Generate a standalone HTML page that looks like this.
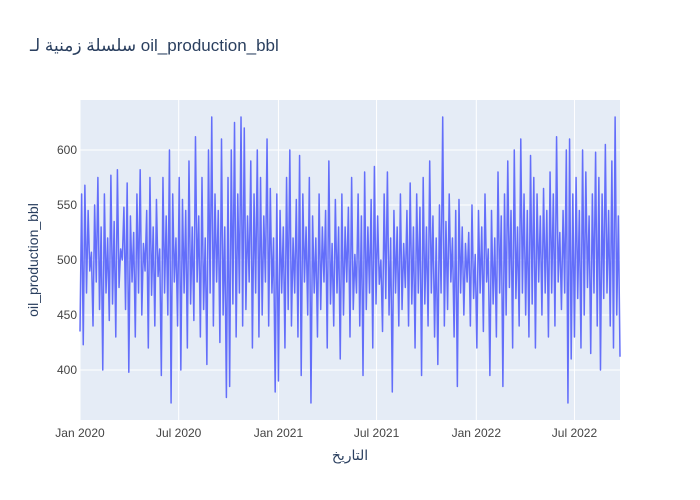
<!DOCTYPE html>
<html><head><meta charset="utf-8"><style>
body{margin:0;background:#fff;}
svg{display:block;font-family:"Liberation Sans","Noto Sans CJK SC","DejaVu Sans",sans-serif;}
</style></head><body>
<svg id="chart" width="700" height="500">
<rect x="0" y="0" width="700" height="500" fill="#fff"/>
<rect x="80" y="100" width="540" height="320" fill="#e5ecf6"/>
<g id="grid"></g>
<g id="series"></g>
<g id="ticks"></g>
<text x="30" y="51" font-size="17" fill="#2a3f5f" direction="ltr">سلسلة زمنية لـ oil_production_bbl</text>
<text x="350" y="460" font-size="14" fill="#2a3f5f" text-anchor="middle">التاريخ</text>
<text transform="translate(38,260) rotate(-90)" font-size="14" fill="#2a3f5f" text-anchor="middle">oil_production_bbl</text>
</svg>
<script>
const startDate = "2020-01-01";
const stepDays = 3;
const values = [
435,560,423,568,470,545,490,507,440,550,480,575,455,530,400,560,470,520,445,577,
460,535,430,582,475,510,500,548,455,570,398,540,480,525,430,560,470,582,450,515,
490,545,420,575,468,530,440,555,485,510,395,575,470,540,450,600,370,560,480,520,
440,575,400,555,470,545,420,590,460,530,445,612,480,540,430,575,455,520,405,600,
470,630,440,560,480,545,425,610,450,530,375,575,385,600,460,625,430,560,470,630,
440,620,455,540,480,590,420,560,470,600,430,575,450,540,480,610,440,565,470,520,
380,560,390,545,470,530,420,575,455,600,440,520,470,555,430,595,395,560,480,530,
450,575,370,540,470,520,430,560,455,530,480,545,420,590,460,515,440,555,470,530,
410,560,450,530,480,548,430,575,455,505,470,560,440,540,395,580,455,530,470,555,
420,585,460,540,478,500,435,560,465,580,450,520,380,545,470,530,440,560,455,515,
475,545,440,570,460,530,420,560,470,548,395,575,460,530,440,590,470,540,430,520,
405,550,470,630,440,535,455,560,480,520,430,545,385,555,470,530,450,515,480,525,
440,550,465,505,420,545,470,530,435,560,480,510,395,545,460,520,430,580,470,540,
385,560,450,590,475,545,420,600,465,530,440,610,470,560,450,545,430,595,460,575,
420,560,480,540,450,565,470,545,430,580,470,560,440,612,480,525,455,545,470,600,
370,610,410,560,430,575,465,545,420,600,450,580,475,540,415,560,470,598,440,575,
400,560,465,605,470,545,440,590,420,630,450,540,412
];
const yTicks = [400,450,500,550,600];
const xTickDates = ["2020-01-01","2020-07-01","2021-01-01","2021-07-01","2022-01-01","2022-07-01"];
const xTickLabels = ["Jan 2020","Jul 2020","Jan 2021","Jul 2021","Jan 2022","Jul 2022"];

const NS="http://www.w3.org/2000/svg";
const t0=Date.parse(startDate);
const DAY=86400000;
const dates=values.map((v,i)=>t0+i*stepDays*DAY);
const xMin=t0, xMax=dates[dates.length-1];
function x(t){return 80+(t-xMin)/(xMax-xMin)*540;}
function y(v){return 370-(v-400)*1.1;}
const grid=document.getElementById('grid'), ticks=document.getElementById('ticks'), series=document.getElementById('series');
yTicks.forEach(v=>{
  const l=document.createElementNS(NS,'line');
  l.setAttribute('x1',80);l.setAttribute('x2',620);l.setAttribute('y1',y(v));l.setAttribute('y2',y(v));
  l.setAttribute('stroke','#fff');l.setAttribute('stroke-width','1');
  
  
  grid.appendChild(l);
  const tx=document.createElementNS(NS,'text');
  tx.setAttribute('x',77);tx.setAttribute('y',y(v)+4);tx.setAttribute('text-anchor','end');
  tx.setAttribute('font-size','12');tx.setAttribute('fill','#444');tx.textContent=v;
  
  
  ticks.appendChild(tx);
});
xTickDates.forEach((d,i)=>{
  const xx=x(Date.parse(d));
  const l=document.createElementNS(NS,'line');
  l.setAttribute('x1',xx);l.setAttribute('x2',xx);l.setAttribute('y1',100);l.setAttribute('y2',420);
  l.setAttribute('stroke','#fff');l.setAttribute('stroke-width','1');
  
  
  grid.appendChild(l);
  const tx=document.createElementNS(NS,'text');
  tx.setAttribute('x',xx);tx.setAttribute('y',437);tx.setAttribute('text-anchor','middle');
  tx.setAttribute('font-size','12');tx.setAttribute('fill','#444');tx.textContent=xTickLabels[i];
  
  
  ticks.appendChild(tx);
});
const p=document.createElementNS(NS,'path');
p.setAttribute('d',values.map((v,i)=>(i?'L':'M')+x(dates[i]).toFixed(2)+','+y(v).toFixed(2)).join(''));
p.setAttribute('fill','none');p.setAttribute('stroke','#636efa');p.setAttribute('stroke-width','1.5');
p.setAttribute('stroke-linejoin','round');


series.appendChild(p);
</script>
</body></html>
